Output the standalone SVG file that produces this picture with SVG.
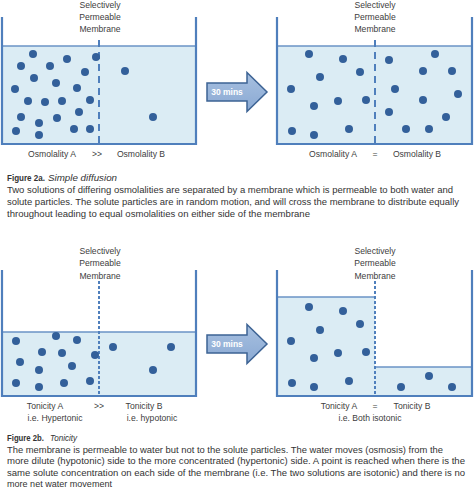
<svg xmlns="http://www.w3.org/2000/svg" width="474" height="493" viewBox="0 0 474 493">
<defs>
<linearGradient id="ag" x1="0" y1="0" x2="0" y2="1">
<stop offset="0" stop-color="#a7c0e0"/>
<stop offset="1" stop-color="#8aa9d3"/>
</linearGradient>
<style>
.water{fill:#dbecf4}
.surf{stroke:#6a93c6;stroke-width:1.5;fill:none}
.wall{stroke:#4f7fbc;stroke-width:2.2;fill:none}
.memL{stroke:#4f7fbc;stroke-width:2;stroke-dasharray:7 5;fill:none}
.memS{stroke:#4f7fbc;stroke-width:2;stroke-dasharray:3 2;fill:none}
.p{fill:#33609a}
.lab{font-family:"Liberation Sans",Arial,sans-serif;font-size:8.6px;fill:#404040;text-anchor:middle}
.cap{font-family:"Liberation Sans",Arial,sans-serif;font-size:9.5px;fill:#333}
.b{font-weight:bold}
.i{font-style:italic}
.arrow{fill:url(#ag);stroke:#3d6394;stroke-width:1.5}
.at{font-family:"Liberation Sans",Arial,sans-serif;font-size:8.5px;font-weight:bold;fill:#fff;text-anchor:middle}
</style>
</defs>
<rect width="474" height="493" fill="#fff"/>

<g id="panel-2a-before">
<rect class="water" x="2" y="46" width="194" height="98"/>
<line class="surf" x1="2" y1="46" x2="196" y2="46"/>
<line class="memL" x1="99" y1="40" x2="99" y2="144"/>
<polyline class="wall" points="2,17 2,144 196,144 196,17"/>
<g>
<circle class="p" cx="33" cy="54" r="4"/><circle class="p" cx="67" cy="59" r="4"/><circle class="p" cx="96" cy="57" r="4"/>
<circle class="p" cx="21" cy="66" r="4"/><circle class="p" cx="50" cy="66" r="4"/><circle class="p" cx="85" cy="72" r="4"/>
<circle class="p" cx="125" cy="71" r="4"/><circle class="p" cx="34" cy="78" r="4"/><circle class="p" cx="56" cy="83" r="4"/>
<circle class="p" cx="15" cy="89" r="4"/><circle class="p" cx="77" cy="88" r="4"/><circle class="p" cx="28" cy="101" r="4"/>
<circle class="p" cx="45" cy="102" r="4"/><circle class="p" cx="62" cy="101" r="4"/><circle class="p" cx="90" cy="100" r="4"/>
<circle class="p" cx="79" cy="112" r="4"/><circle class="p" cx="21" cy="117" r="4"/><circle class="p" cx="57" cy="118" r="4"/>
<circle class="p" cx="153" cy="117" r="4"/><circle class="p" cx="39" cy="123" r="4"/><circle class="p" cx="16" cy="131" r="4"/>
<circle class="p" cx="74" cy="129" r="4"/><circle class="p" cx="90" cy="129" r="4"/><circle class="p" cx="39" cy="135" r="4"/>
</g>
<text class="lab" x="100" y="8">Selectively</text>
<text class="lab" x="100" y="20">Permeable</text>
<text class="lab" x="100" y="32">Membrane</text>
<text class="lab" x="52" y="157">Osmolality A</text>
<text class="lab" x="97" y="157">&gt;&gt;</text>
<text class="lab" x="141" y="157">Osmolality B</text>
</g>

<g id="arrow-2a">
<path class="arrow" d="M207,83 L247,83 L247,72.5 L267,92 L247,111.5 L247,101 L207,101 Z"/>
<text class="at" x="227" y="95">30 mins</text>
</g>

<g id="panel-2a-after">
<rect class="water" x="277" y="46" width="195" height="98"/>
<line class="surf" x1="277" y1="46" x2="472" y2="46"/>
<line class="memL" x1="375" y1="40" x2="375" y2="144"/>
<polyline class="wall" points="277,17 277,144 472,144 472,17"/>
<g>
<circle class="p" cx="309" cy="54" r="4"/><circle class="p" cx="343" cy="59" r="4"/><circle class="p" cx="389" cy="60" r="4"/>
<circle class="p" cx="435" cy="54" r="4"/><circle class="p" cx="360" cy="72" r="4"/><circle class="p" cx="423" cy="71" r="4"/>
<circle class="p" cx="452" cy="71" r="4"/><circle class="p" cx="320" cy="77" r="4"/><circle class="p" cx="291" cy="89" r="4"/>
<circle class="p" cx="395" cy="89" r="4"/><circle class="p" cx="458" cy="94" r="4"/><circle class="p" cx="314" cy="106" r="4"/>
<circle class="p" cx="338" cy="101" r="4"/><circle class="p" cx="366" cy="100" r="4"/><circle class="p" cx="423" cy="100" r="4"/>
<circle class="p" cx="389" cy="112" r="4"/><circle class="p" cx="446" cy="117" r="4"/><circle class="p" cx="292" cy="131" r="4"/>
<circle class="p" cx="314" cy="135" r="4"/><circle class="p" cx="349" cy="129" r="4"/><circle class="p" cx="406" cy="129" r="4"/>
<circle class="p" cx="429" cy="129" r="4"/>
</g>
<text class="lab" x="375" y="8">Selectively</text>
<text class="lab" x="375" y="20">Permeable</text>
<text class="lab" x="375" y="32">Membrane</text>
<text class="lab" x="333" y="157">Osmolality A</text>
<text class="lab" x="375" y="157">=</text>
<text class="lab" x="417" y="157">Osmolality B</text>
</g>

<g id="caption-2a">
<text class="cap b" x="7" y="180.5" textLength="38" lengthAdjust="spacingAndGlyphs">Figure 2a.</text>
<text class="cap i" x="48" y="180.5" textLength="69" lengthAdjust="spacingAndGlyphs">Simple diffusion</text>
<text class="cap" x="7" y="192.5" textLength="446" lengthAdjust="spacingAndGlyphs">Two solutions of differing osmolalities are separated by a membrane which is permeable to both water and</text>
<text class="cap" x="7" y="205" textLength="452" lengthAdjust="spacingAndGlyphs">solute particles. The solute particles are in random motion, and will cross the membrane to distribute equally</text>
<text class="cap" x="7" y="217" textLength="303" lengthAdjust="spacingAndGlyphs">throughout leading to equal osmolalities on either side of the membrane</text>
</g>

<g id="panel-2b-before">
<rect class="water" x="2" y="332" width="194" height="64"/>
<line class="surf" x1="2" y1="332" x2="196" y2="332"/>
<line class="memS" x1="99" y1="281" x2="99" y2="396"/>
<polyline class="wall" points="2,270 2,396 196,396 196,270"/>
<g>
<circle class="p" cx="16" cy="341" r="4"/><circle class="p" cx="56" cy="336" r="4"/><circle class="p" cx="77" cy="340" r="4"/>
<circle class="p" cx="42" cy="352" r="4"/><circle class="p" cx="62" cy="353" r="4"/><circle class="p" cx="95" cy="355" r="4"/>
<circle class="p" cx="113" cy="347" r="4"/><circle class="p" cx="171" cy="347" r="4"/><circle class="p" cx="20" cy="362" r="4"/>
<circle class="p" cx="72" cy="366" r="4"/><circle class="p" cx="39" cy="370" r="4"/><circle class="p" cx="153" cy="370" r="4"/>
<circle class="p" cx="16" cy="383" r="4"/><circle class="p" cx="39" cy="387" r="4"/><circle class="p" cx="64" cy="383" r="4"/>
<circle class="p" cx="90" cy="381" r="4"/>
</g>
<text class="lab" x="100" y="254">Selectively</text>
<text class="lab" x="100" y="266">Permeable</text>
<text class="lab" x="100" y="279">Membrane</text>
<text class="lab" x="45" y="409">Tonicity A</text>
<text class="lab" x="99" y="409">&gt;&gt;</text>
<text class="lab" x="144" y="409">Tonicity B</text>
<text class="lab" x="55" y="421">i.e. Hypertonic</text>
<text class="lab" x="152" y="421">i.e.  hypotonic</text>
</g>

<g id="arrow-2b">
<path class="arrow" d="M207,335 L247,335 L247,324.5 L267,344 L247,363.5 L247,353 L207,353 Z"/>
<text class="at" x="227" y="347">30 mins</text>
</g>

<g id="panel-2b-after">
<rect class="water" x="277" y="297" width="98" height="99"/>
<rect class="water" x="375" y="367" width="97" height="29"/>
<line class="surf" x1="277" y1="297" x2="375" y2="297"/>
<line class="surf" x1="375" y1="367" x2="472" y2="367"/>
<line class="memS" x1="375" y1="281" x2="375" y2="396"/>
<polyline class="wall" points="277,270 277,396 472,396 472,270"/>
<g>
<circle class="p" cx="309" cy="307" r="4"/><circle class="p" cx="343" cy="311" r="4"/><circle class="p" cx="360" cy="324" r="4"/>
<circle class="p" cx="320" cy="330" r="4"/><circle class="p" cx="291" cy="341" r="4"/><circle class="p" cx="314" cy="358" r="4"/>
<circle class="p" cx="338" cy="353" r="4"/><circle class="p" cx="366" cy="352" r="4"/><circle class="p" cx="292" cy="383" r="4"/>
<circle class="p" cx="314" cy="387" r="4"/><circle class="p" cx="349" cy="381" r="4"/><circle class="p" cx="401" cy="387" r="4"/>
<circle class="p" cx="429" cy="376" r="4"/><circle class="p" cx="452" cy="387" r="4"/>
</g>
<text class="lab" x="375" y="254">Selectively</text>
<text class="lab" x="375" y="266">Permeable</text>
<text class="lab" x="375" y="279">Membrane</text>
<text class="lab" x="339" y="409">Tonicity A</text>
<text class="lab" x="375" y="409">=</text>
<text class="lab" x="412" y="409">Tonicity B</text>
<text class="lab" x="370" y="421">i.e.  Both isotonic</text>
</g>

<g id="caption-2b">
<text class="cap b" x="7" y="441" textLength="37" lengthAdjust="spacingAndGlyphs">Figure 2b.</text>
<text class="cap i" x="50" y="441" textLength="27" lengthAdjust="spacingAndGlyphs">Tonicity</text>
<text class="cap" x="7" y="452.5" textLength="436" lengthAdjust="spacingAndGlyphs">The membrane is permeable to water but not to the solute particles. The water moves (osmosis) from the</text>
<text class="cap" x="7" y="464" textLength="458" lengthAdjust="spacingAndGlyphs">more dilute (hypotonic) side to the more concentrated (hypertonic) side.  A point is reached when there is the</text>
<text class="cap" x="7" y="475.5" textLength="458" lengthAdjust="spacingAndGlyphs">same solute concentration on each side of the membrane  (i.e. The two solutions are isotonic) and there is no</text>
<text class="cap" x="7" y="487" textLength="105" lengthAdjust="spacingAndGlyphs">more net water movement</text>
</g>
</svg>
